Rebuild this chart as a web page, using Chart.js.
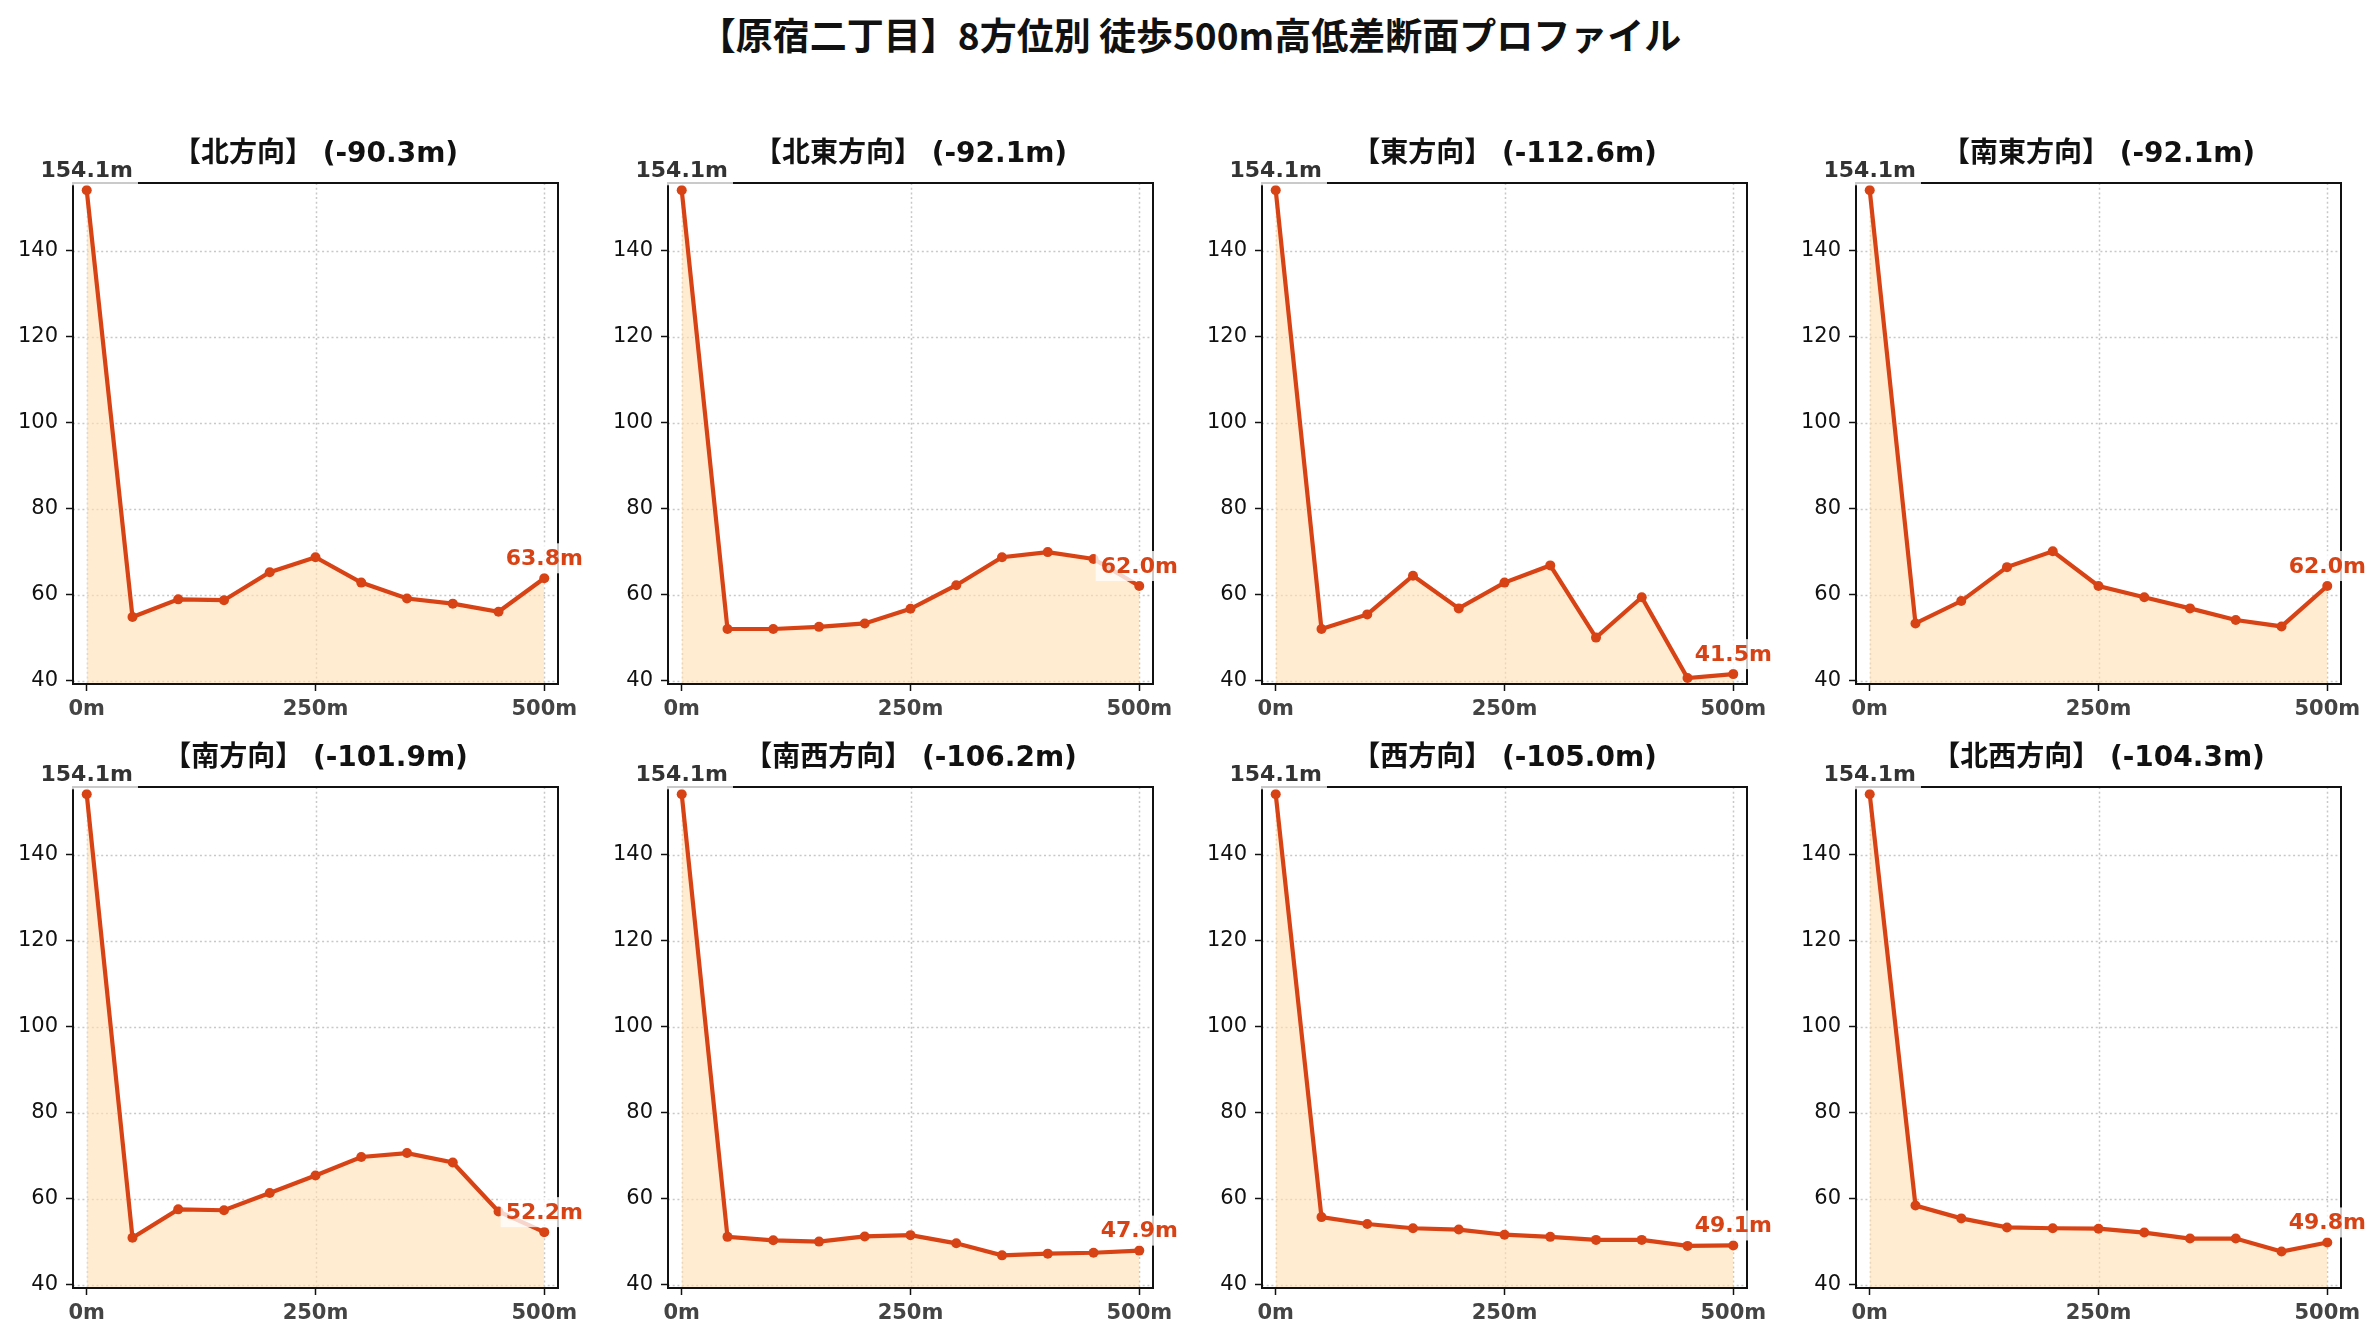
<!DOCTYPE html>
<html>
<head>
<meta charset="utf-8">
<script src="https://cdn.jsdelivr.net/npm/chart.js@4.4.1/dist/chart.umd.min.js"></script>
<style>
  body { margin: 0; background: #fff; width: 2380px; height: 1340px; position: relative; overflow: hidden; }
  #title {
    position: absolute; left: 0; top: 13px; width: 2380px; text-align: center;
    font: bold 37px/42px "Noto Sans CJK JP", "DejaVu Sans", sans-serif; color: #111;
  }
  .panel { position: absolute; }
</style>
</head>
<body>
<div id="title">【原宿二丁目】8方位別 徒歩500m高低差断面プロファイル</div>

<script>
//========================= Data ==================================//
const distances = [0, 50, 100, 150, 200, 250, 300, 350, 400, 450, 500];
const directions = ['北', '北東', '東', '南東', '南', '南西', '西', '北西'];

const elevNorth     = [154.1, 54.8, 58.9, 58.7, 65.2, 68.7, 62.8, 59.1, 57.9, 56.0, 63.8];
const elevNorthEast = [154.1, 52.0, 52.0, 52.5, 53.3, 56.7, 62.2, 68.7, 69.9, 68.3, 62.0];
const elevEast      = [154.1, 52.0, 55.4, 64.4, 56.8, 62.8, 66.8, 50.0, 59.4, 40.6, 41.5];
const elevSouthEast = [154.1, 53.3, 58.5, 66.4, 70.1, 62.0, 59.4, 56.8, 54.1, 52.6, 62.0];
const elevSouth     = [154.1, 50.9, 57.5, 57.3, 61.3, 65.4, 69.7, 70.6, 68.4, 57.0, 52.2];
const elevSouthWest = [154.1, 51.1, 50.3, 50.0, 51.2, 51.5, 49.6, 46.8, 47.2, 47.4, 47.9];
const elevWest      = [154.1, 55.7, 54.1, 53.1, 52.8, 51.6, 51.1, 50.4, 50.4, 49.0, 49.1];
const elevNorthWest = [154.1, 58.4, 55.4, 53.3, 53.1, 53.0, 52.1, 50.7, 50.7, 47.7, 49.8];

const profiles = [elevNorth, elevNorthEast, elevEast, elevSouthEast,
                  elevSouth, elevSouthWest, elevWest, elevNorthWest];

const xTicks = [0, 250, 500];
const yTicks = [40, 60, 80, 100, 120, 140];

//========================= Layout ==================================//
const FONT = '"DejaVu Sans", "Noto Sans CJK JP", sans-serif';
const LINE = '#d84315';
const colLeft = [73, 668, 1262, 1856];
const rowTop = [183, 787];
const areaW = 485, areaH = 501;
const padL = 73, padT = 70, padR = 40, padB = 50;

/***************************************************************
* Panel plugin: dotted grid, frame, title and point labels
****************************************************************/
const panelDeco = {
  id: 'panelDeco',
  beforeDatasetsDraw(chart) {
    const { ctx, chartArea: a, scales } = chart;
    ctx.save();
    ctx.strokeStyle = '#c8c8c8';
    ctx.lineWidth = 1.5;
    ctx.setLineDash([2, 2.7]);
    yTicks.forEach(v => {
      const y = Math.round(scales.y.getPixelForValue(v)) + 0.5;
      ctx.beginPath(); ctx.moveTo(a.left, y); ctx.lineTo(a.right, y); ctx.stroke();
    });
    xTicks.forEach(v => {
      const x = Math.round(scales.x.getPixelForValue(v)) + 0.5;
      ctx.beginPath(); ctx.moveTo(x, a.top); ctx.lineTo(x, a.bottom); ctx.stroke();
    });
    ctx.restore();
  },
  afterDatasetsDraw(chart) {
    const { ctx, chartArea: a } = chart;
    ctx.save();
    ctx.strokeStyle = '#111';
    ctx.lineWidth = 2;
    ctx.strokeRect(a.left, a.top, a.right - a.left, a.bottom - a.top);
    ctx.restore();
  },
  afterDraw(chart, args, opts) {
    const { ctx, chartArea: a } = chart;
    const pts = chart.getDatasetMeta(0).data;
    const vals = chart.data.datasets[0].data;

    ctx.save();
    ctx.font = 'bold 28px ' + FONT;
    ctx.fillStyle = '#111';
    ctx.textAlign = 'center';
    ctx.textBaseline = 'middle';
    ctx.fillText(opts.title, (a.left + a.right) / 2, a.top - 28);

    const label = (pt, text, color) => {
      ctx.font = 'bold 22px ' + FONT;
      const w = ctx.measureText(text).width;
      const cy = pt.y - 20;
      ctx.fillStyle = 'rgba(255,255,255,0.78)';
      ctx.fillRect(pt.x - w / 2 - 5, cy - 15, w + 10, 30);
      ctx.fillStyle = color;
      ctx.fillText(text, pt.x, cy + 1);
    };
    label(pts[0], vals[0].y.toFixed(1) + 'm', '#333');
    label(pts[pts.length - 1], vals[vals.length - 1].y.toFixed(1) + 'm', LINE);
    ctx.restore();
  }
};

/***************************************************************
* Build the 8 panels
****************************************************************/
profiles.forEach((elev, i) => {
  const col = i % 4, row = Math.floor(i / 4);
  const box = document.createElement('div');
  box.className = 'panel';
  box.style.left = (colLeft[col] - padL) + 'px';
  box.style.top = (rowTop[row] - padT) + 'px';
  const cv = document.createElement('canvas');
  cv.width = padL + areaW + padR;
  cv.height = padT + areaH + padB;
  cv.style.width = cv.width + 'px';
  cv.style.height = cv.height + 'px';
  box.appendChild(cv);
  document.body.appendChild(box);

  const drop = (elev[elev.length - 1] - elev[0]).toFixed(1);

  new Chart(cv, {
    type: 'line',
    data: {
      datasets: [{
        data: elev.map((v, k) => ({ x: distances[k], y: v })),
        borderColor: LINE,
        backgroundColor: 'rgba(255, 224, 178, 0.6)',
        borderWidth: 4.2,
        fill: 'start',
        tension: 0,
        pointRadius: 5,
        pointBackgroundColor: LINE,
        pointBorderColor: LINE,
        pointBorderWidth: 0
      }]
    },
    options: {
      responsive: false,
      animation: false,
      devicePixelRatio: 1,
      layout: { padding: { left: 0, top: padT, right: padR, bottom: 0 } },
      plugins: {
        legend: { display: false },
        tooltip: { enabled: false },
        panelDeco: { title: `【${directions[i]}方向】 (${drop}m)` }
      },
      scales: {
        x: {
          type: 'linear', min: -15, max: 515,
          afterBuildTicks: ax => { ax.ticks = xTicks.map(v => ({ value: v })); },
          afterFit: ax => { ax.height = padB; },
          border: { display: false },
          grid: { drawOnChartArea: false, drawTicks: true, tickLength: 7, tickColor: '#111', tickWidth: 1.5 },
          ticks: {
            callback: v => v + 'm',
            color: '#444', padding: 6, maxRotation: 0, autoSkip: false,
            font: { family: FONT, size: 21, weight: 'bold' }
          }
        },
        y: {
          type: 'linear', min: 39.2, max: 155.8,
          afterBuildTicks: ax => { ax.ticks = yTicks.map(v => ({ value: v })); },
          afterFit: ax => { ax.width = padL; },
          border: { display: false },
          grid: { drawOnChartArea: false, drawTicks: true, tickLength: 7, tickColor: '#111', tickWidth: 1.5 },
          ticks: {
            color: '#111', padding: 8, autoSkip: false,
            font: { family: FONT, size: 21 }
          }
        }
      }
    },
    plugins: [panelDeco]
  });
});
</script>
</body>
</html>
